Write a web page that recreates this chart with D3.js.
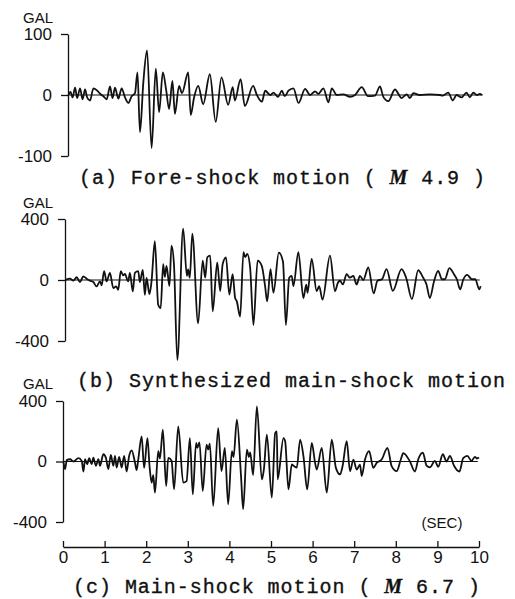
<!DOCTYPE html>
<html>
<head>
<meta charset="utf-8">
<script src="https://cdn.jsdelivr.net/npm/d3@7"></script>
<style>
  body { margin: 0; background: #fff; }
  svg { display: block; }
  .tick text { font-family: "Liberation Sans", sans-serif; }
</style>
</head>
<body>
<script>
// (a) fore-shock, M 4.9 : time in sec, acceleration in gal (peaks and troughs)
var timeA = [0.01,0.06,0.11,0.17,0.22,0.29,0.35,0.41,0.46,0.53,0.61,0.69,0.77,0.85,0.93,1.01,1.07,1.13,1.21,1.29,1.37,1.45,1.53,1.61,
  1.67,1.73,1.81,1.90,2.01,2.11,2.19,2.28,2.36,2.43,2.51,2.57,2.67,2.74,2.89,2.95,3.03,3.13,3.25,3.41,3.55,3.69,3.85,3.96,4.01,4.15,4.25,4.45,
  4.54,4.66,4.74,4.86,4.94,5.05,5.14,5.21,5.30,5.42,5.54,5.70,5.82,5.94,6.02,6.14,6.26,6.34,6.46,6.62,6.78,6.90,7.06,7.21,7.38,7.50,7.58,7.70,
  7.86,8.02,8.14,8.22,8.30,8.46,8.70,8.94,9.01,9.14,9.25,9.34,9.46,9.58,9.66,9.74,9.83,9.90,9.95];
var accA = [0,5,-4,12,-5,11,-7,9,-4,-9,11,8,2,-2,-7,14,-5,12,-6,11,-4,-13,-2,3,
  37,-61,20,73,-87,43,-28,37,8,-23,23,-31,15,3,37,-33,-4,15,-15,34,-44,29,-16,13,-9,26,-18,15,
  0,-11,7,0,4,-3,7,-2,7,11,-13,10,0,6,2,11,-12,11,0,1,-3,0,13,-2,-1,14,-3,-10,
  9,-5,1,-5,3,0,1,0,-1,4,-9,0,-4,4,-4,4,0,2,0];

// (b) synthesized main-shock
var timeB = [0.01,0.12,0.20,0.28,0.36,0.44,0.52,0.60,0.68,0.76,0.84,0.88,0.94,1.00,1.08,1.16,1.23,1.28,1.34,1.40,1.44,1.52,1.56,1.63,1.68,1.76,1.80,1.87,1.92,1.96,2.03,2.08,
  2.16,2.24,2.30,2.36,2.40,2.44,2.51,2.56,2.62,2.70,2.84,2.93,2.96,3.00,3.06,3.20,3.31,3.37,3.42,3.49,3.55,3.66,3.73,3.79,3.87,3.95,4.03,4.09,4.13,4.21,4.29,4.33,4.38,4.45,4.53,4.63,4.73,4.81,4.86,4.94,5.01,
  5.14,5.24,5.31,5.39,5.45,5.49,5.61,5.73,5.80,5.83,5.93,6.05,6.11,6.19,6.37,6.49,6.56,6.61,6.68,6.77,6.85,6.93,7.01,7.09,7.17,7.29,7.42,7.51,7.62,7.73,7.88,
  8.09,8.20,8.34,8.49,8.61,8.69,8.77,8.87,8.97,9.06,9.13,9.24,9.35,9.42,9.50,9.57,9.67,9.78,9.86,9.96,9.99];
var accB = [0,9,-4,18,-13,24,9,-4,-13,-42,-9,-35,58,-9,47,-53,-42,-64,58,30,40,-9,47,-75,47,58,-13,67,-98,13,-93,-9,
  255,-162,-184,104,20,93,-40,226,100,-525,337,27,70,15,304,-285,127,15,149,160,-206,115,-73,104,149,-95,38,-118,-140,-240,182,150,171,82,-295,127,93,-40,-140,71,-84,
  180,120,-295,15,27,-40,182,-118,-30,-84,138,-73,-40,-129,160,-73,-18,-5,-29,38,15,27,-29,27,0,82,-88,-5,5,71,-71,
  71,15,-125,64,15,-29,-118,-10,60,5,5,78,38,5,-62,0,33,5,5,-62,-40];

// (c) main-shock, M 6.7
var timeC = [0.01,0.05,0.09,0.17,0.25,0.37,0.45,0.49,0.53,0.58,0.63,0.69,0.73,0.79,0.85,0.89,0.97,1.03,1.09,1.15,1.21,1.25,1.29,1.35,1.41,1.47,1.53,1.59,1.65,1.73,1.77,1.81,
  1.89,1.95,2.03,2.08,2.13,2.17,2.21,2.29,2.33,2.40,2.48,2.53,2.61,2.67,2.77,2.89,2.97,3.05,3.12,3.20,3.23,3.28,3.36,3.45,3.49,3.53,3.61,3.73,3.81,3.89,3.97,4.06,4.10,4.18,4.28,4.33,4.42,4.47,4.50,4.57,4.66,4.78,4.83,4.90,
  5.02,5.10,5.14,5.16,5.30,5.34,5.42,5.50,5.55,5.62,5.70,5.78,5.87,5.98,6.06,6.10,6.22,6.34,6.46,6.56,6.66,6.72,6.82,6.90,6.98,7.06,7.14,7.18,7.26,7.36,7.46,7.54,7.66,7.80,7.90,
  8.02,8.12,8.18,8.34,8.46,8.54,8.65,8.74,8.82,8.94,9.02,9.13,9.22,9.30,9.40,9.53,9.62,9.72,9.82,9.90,9.95,10.0];
var accC = [0,-50,9,15,0,22,4,-66,15,-18,22,-18,26,-28,15,-28,48,26,-50,44,-28,37,-40,31,-40,37,-66,37,74,-7,-57,15,
  166,-42,155,-30,-140,-90,-206,68,20,210,-162,24,5,-184,232,-140,-130,155,-217,123,90,127,-195,112,80,118,-293,221,-64,90,-283,68,30,276,-100,-315,79,30,60,-90,364,-118,-50,177,
  -239,188,199,-118,155,134,-184,-20,-30,-40,145,35,-184,123,-9,-53,90,-206,145,-42,-85,-31,134,-64,13,-53,-20,-96,13,68,-42,-9,13,90,-31,
  -64,13,55,0,-66,15,59,-28,-39,4,-35,48,0,37,-28,-66,22,37,4,31,20,26];

var ticksA = [-100, 0, 100];
var ticksBC = [-400, 0, 400];
var ticksTime = [0,1,2,3,4,5,6,7,8,9,10];

var width = 515, height = 599;
var svg = d3.select("body").append("svg")
  .attr("width", width)
  .attr("height", height);

var panels = [
  { t: timeA, v: accA, ticks: ticksA, x0: 68, top: 34, bottom: 156, gal: 23 },
  { t: timeB, v: accB, ticks: ticksBC, x0: 65, top: 219, bottom: 341, gal: 208 },
  { t: timeC, v: accC, ticks: ticksBC, x0: 63, top: 401, bottom: 522, gal: 389 }
];

panels.forEach(function(p){
  var x = d3.scaleLinear().domain([0, 10]).range([p.x0, p.x0 + 416]);
  var m = p.ticks[2];
  var y = d3.scaleLinear().domain([-m, m]).range([p.bottom, p.top]);

  var g = svg.append("g");

  // vertical axis, ticks to the left
  var ax = g.append("g")
    .attr("transform", "translate(" + p.x0 + ",0)")
    .call(d3.axisLeft(y).tickValues(p.ticks).tickSize(7).tickSizeOuter(0).tickPadding(9)
      .tickFormat(d3.format("d")));
  ax.select(".domain").attr("stroke", "#111").attr("stroke-width", 1.3);
  ax.selectAll(".tick line").attr("stroke", "#111").attr("stroke-width", 1.3);
  ax.selectAll(".tick text").attr("font-size", 17).attr("fill", "#111")
    .text(function(d){ return d < 0 ? "-" + Math.abs(d) : d; });

  // zero line
  g.append("line")
    .attr("x1", p.x0).attr("x2", x(9.97))
    .attr("y1", y(0)).attr("y2", y(0))
    .attr("stroke", "#111").attr("stroke-width", 1.2);

  g.append("text")
    .attr("x", 53).attr("y", p.gal)
    .attr("text-anchor", "end")
    .attr("font-family", "Liberation Sans, sans-serif")
    .attr("font-size", 15)
    .attr("fill", "#111")
    .text("GAL");

  var line = d3.line()
    .x(function(d, i){ return x(p.t[i]); })
    .y(function(d){ return y(d); })
    .curve(d3.curveMonotoneX);

  g.append("path")
    .datum(p.v)
    .attr("d", line)
    .attr("fill", "none")
    .attr("stroke", "#111")
    .attr("stroke-width", 1.8)
    .attr("stroke-linejoin", "round");
});

// time axis under panel (c)
var xt = d3.scaleLinear().domain([0, 10]).range([63, 479]);
var tax = svg.append("g")
  .attr("transform", "translate(0,547)")
  .call(d3.axisBottom(xt).tickValues(ticksTime).tickSize(-6).tickSizeOuter(0).tickPadding(4));
tax.select(".domain").attr("stroke", "#111").attr("stroke-width", 1.3);
tax.selectAll(".tick line").attr("stroke", "#111").attr("stroke-width", 1.3);
tax.selectAll(".tick text").attr("font-size", 17).attr("fill", "#111");

svg.append("text")
  .attr("x", 442).attr("y", 528)
  .attr("text-anchor", "middle")
  .attr("font-family", "Liberation Sans, sans-serif")
  .attr("font-size", 15)
  .attr("fill", "#111")
  .text("(SEC)");

// captions
function caption(xp, yp, len, before, mag, after){
  var t = svg.append("text")
    .attr("x", xp).attr("y", yp)
    .attr("font-family", "Liberation Mono, monospace")
    .attr("font-size", 20)
    .attr("fill", "#111")
    .attr("stroke", "#111").attr("stroke-width", 0.35)
    .attr("textLength", len)
    .attr("lengthAdjust", "spacing");
  t.append("tspan").text(before);
  if (mag) {
    t.append("tspan")
      .attr("font-family", "Liberation Serif, serif")
      .attr("font-style", "italic")
      .attr("font-weight", "bold")
      .text("M");
    t.append("tspan").text(after);
  }
}
caption(79, 184, 406, "(a) Fore-shock motion ( ", true, " 4.9 )");
caption(77, 387, 428, "(b) Synthesized main-shock motion", false);
caption(73, 593, 407, "(c) Main-shock motion ( ", true, " 6.7 )");
</script>
</body>
</html>
